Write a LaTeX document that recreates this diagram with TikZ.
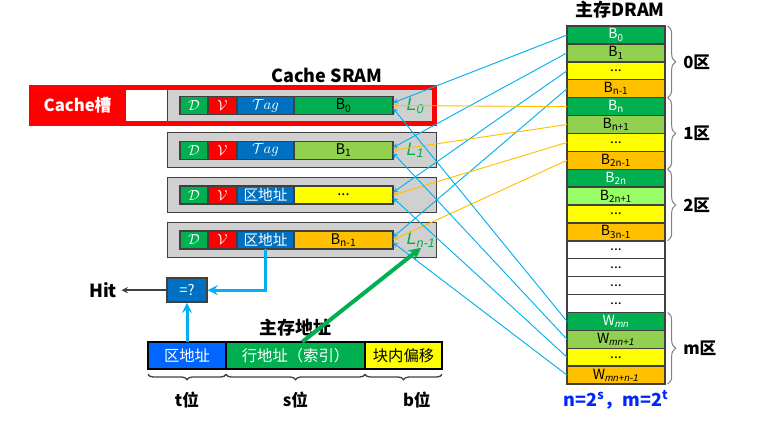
\documentclass[tikz,border=0pt]{standalone}
\usepackage{fontspec}
\setmainfont{Noto Sans CJK SC}
\newfontfamily\itfont{Liberation Sans}
\usepackage{xcolor}
\usetikzlibrary{arrows, positioning, decorations.pathreplacing}
\definecolor{cgreen}{HTML}{00B050}
\definecolor{clgreen}{HTML}{92D050}
\definecolor{cpgreen}{HTML}{99FF66}
\definecolor{cyellow}{HTML}{FFFF00}
\definecolor{corange}{HTML}{FFC000}
\definecolor{cblue}{HTML}{0070C0}
\definecolor{czone}{HTML}{0066FF}
\definecolor{ccyan}{HTML}{00B0F0}
\definecolor{cgray}{HTML}{D0D0D0}
\definecolor{cline}{HTML}{404040}
\definecolor{cnote}{HTML}{0026FF}
\tikzstyle{blk} = [rectangle, 
minimum width=73.5pt, 
minimum height=13.425pt, 
inner sep=0pt, outer sep=0pt, 
draw=cline, line width=1.1pt, 
font=\fontsize{10.5}{12}\selectfont]
\tikzstyle{gblk} = [blk, fill=cgreen, text=white]
\tikzstyle{lblk} = [blk, fill=clgreen]
\tikzstyle{pblk} = [blk, fill=cpgreen]
\tikzstyle{yblk} = [blk, fill=cyellow]
\tikzstyle{oblk} = [blk, fill=corange]
\tikzstyle{wblk} = [blk, fill=white]
\tikzstyle{cacherow} = [rectangle, 
minimum width=201.75pt, 
minimum height=26.25pt, 
outer sep=0pt, 
draw=cline, line width=0.75pt, 
fill=cgray, 
node distance=33.6pt]
\tikzstyle{field} = [rectangle, 
minimum height=13.5pt, 
inner sep=0pt, outer sep=0pt, 
draw=cline, line width=1.1pt, 
font=\fontsize{11}{12}\selectfont]
\tikzstyle{dbit} = [field, minimum width=21pt, fill=cgreen, text=white]
\tikzstyle{vbit} = [field, minimum width=21.75pt, fill=red, text=white]
\tikzstyle{tagf} = [field, minimum width=42.75pt, fill=cblue, text=white]
\tikzstyle{dataf} = [field, minimum width=74.25pt]
\tikzstyle{lname} = [inner sep=0pt, text=cgreen, font=\itfont\itshape\fontsize{13.5}{15}\selectfont]
\tikzstyle{slotbox} = [rectangle, 
minimum width=72.75pt, 
minimum height=30.75pt, 
fill=red, text=white, 
font=\bfseries\fontsize{12.5}{14}\selectfont]
\tikzstyle{addr} = [rectangle, 
minimum height=20.25pt, 
inner sep=0pt, outer sep=0pt, 
draw=black, line width=1.5pt, 
font=\fontsize{11.5}{13}\selectfont]
\tikzstyle{cmpbox} = [rectangle, 
minimum width=30pt, 
minimum height=18pt, 
inner sep=0pt, 
draw=cline, line width=1.1pt, 
fill=cblue, text=white, 
font=\fontsize{11}{12}\selectfont]
\tikzstyle{title} = [font=\bfseries\fontsize{13.5}{15}\selectfont]
\tikzstyle{zlabel} = [font=\bfseries\fontsize{12.5}{15}\selectfont]
\tikzstyle{zbrace} = [decorate, decoration={brace, amplitude=6pt}, draw=gray, line width=0.75pt]
\tikzstyle{bbrace} = [decorate, decoration={brace, mirror, amplitude=4pt}, draw=cline, line width=1pt]
\tikzstyle{map0} = [->, >=stealth, draw=ccyan, line width=0.7pt]
\tikzstyle{map1} = [->, >=stealth, draw=corange, line width=0.7pt]
\tikzstyle{arrow} = [->, >=stealth, draw=ccyan, line width=2.25pt]
\tikzstyle{garrow} = [->, >=stealth, draw=cgreen, line width=3pt]
\begin{document}
\begin{tikzpicture}[x=0.75pt, y=-0.75pt, node distance=13.425pt]
  \useasboundingbox (0,0) rectangle (773,422);

  % main memory
  \node (blk0) [gblk] at (616,35) {B\textsubscript{0}};
  \node (blk1) [lblk, below of=blk0] {B\textsubscript{1}};
  \node (blk2) [yblk, below of=blk1] {...};
  \node (blk3) [oblk, below of=blk2] {B\textsubscript{n-1}};
  \node (blk4) [gblk, below of=blk3] {B\textsubscript{n}};
  \node (blk5) [lblk, below of=blk4] {B\textsubscript{n+1}};
  \node (blk6) [yblk, below of=blk5] {...};
  \node (blk7) [oblk, below of=blk6] {B\textsubscript{2n-1}};
  \node (blk8) [gblk, below of=blk7] {B\textsubscript{2n}};
  \node (blk9) [pblk, below of=blk8] {B\textsubscript{2n+1}};
  \node (blk10) [yblk, below of=blk9] {...};
  \node (blk11) [oblk, below of=blk10] {B\textsubscript{3n-1}};
  \node (blk12) [wblk, below of=blk11] {...};
  \node (blk13) [wblk, below of=blk12] {...};
  \node (blk14) [wblk, below of=blk13] {...};
  \node (blk15) [wblk, below of=blk14] {...};
  \node (blk16) [gblk, below of=blk15] {W\textsubscript{\itfont\itshape mn}};
  \node (blk17) [lblk, below of=blk16] {W\textsubscript{\itfont\itshape mn+1}};
  \node (blk18) [yblk, below of=blk17] {...};
  \node (blk19) [oblk, below of=blk18] {W\textsubscript{\itfont\itshape mn+n-1}};
  \node (dram) [title, node distance=18.75pt, above of=blk0, xshift=3pt] {主存DRAM};
  \node (note) [title, text=cnote, node distance=18.75pt, below of=blk19] {n=2\textsuperscript{s}，m=2\textsuperscript{t}};

  \draw [zbrace] ([xshift=2pt]blk0.north east) -- node[zlabel, right=8pt] {0区} ([xshift=2pt]blk3.south east);
  \draw [zbrace] ([xshift=2pt]blk4.north east) -- node[zlabel, right=8pt] {1区} ([xshift=2pt]blk7.south east);
  \draw [zbrace] ([xshift=2pt]blk8.north east) -- node[zlabel, right=8pt] {2区} ([xshift=2pt]blk11.south east);
  \draw [zbrace] ([xshift=2pt]blk16.north east) -- node[zlabel, right=8pt] {m区} ([xshift=2pt]blk19.south east);

  % cache lines
  \node (row0) [cacherow] at (301.5,105.5) {};
  \node (row1) [cacherow, below of=row0] {};
  \node (row2) [cacherow, below of=row1] {};
  \node (row3) [cacherow, below of=row2] {};
  \node (sram) [title, node distance=22.9pt, above of=row0, xshift=19pt] {Cache SRAM};

  \node (d0) [dbit, right=9.75pt of row0.west] {$\mathcal{D}$};
  \node (v0) [vbit, right=0pt of d0] {$\mathcal{V}$};
  \node (t0) [tagf, right=0pt of v0] {$\mathcal{T}ag$};
  \node (c0) [dataf, fill=cgreen, right=0pt of t0] {B\textsubscript{0}};
  \node (l0) [lname, right=10pt of c0] {L\textsubscript{0}};

  \node (d1) [dbit, right=9.75pt of row1.west] {$\mathcal{D}$};
  \node (v1) [vbit, right=0pt of d1] {$\mathcal{V}$};
  \node (t1) [tagf, right=0pt of v1] {$\mathcal{T}ag$};
  \node (c1) [dataf, fill=clgreen, right=0pt of t1] {B\textsubscript{1}};
  \node (l1) [lname, right=10pt of c1] {L\textsubscript{1}};

  \node (d2) [dbit, right=9.75pt of row2.west] {$\mathcal{D}$};
  \node (v2) [vbit, right=0pt of d2] {$\mathcal{V}$};
  \node (t2) [tagf, right=0pt of v2] {区地址};
  \node (c2) [dataf, fill=cyellow, right=0pt of t2] {...};

  \node (d3) [dbit, right=9.75pt of row3.west] {$\mathcal{D}$};
  \node (v3) [vbit, right=0pt of d3] {$\mathcal{V}$};
  \node (t3) [tagf, right=0pt of v3] {区地址};
  \node (c3) [dataf, fill=corange, right=0pt of t3] {B\textsubscript{n-1}};
  \node (l3) [lname, right=10pt of c3] {L\textsubscript{n-1}};

  \node (slot) [slotbox, node distance=168pt, left of=row0] {Cache槽};
  \draw [red, line width=3.75pt] (31.5,87.5) rectangle (434.5,123.5);

  % address
  \node (zone) [addr, minimum width=58.5pt, fill=czone, text=white] at (187,355.5) {区地址};
  \node (idx) [addr, minimum width=104.25pt, fill=cgreen, text=white, right=0pt of zone] {行地址（索引）};
  \node (off) [addr, minimum width=57.75pt, fill=cyellow, right=0pt of idx] {块内偏移};
  \node (maddr) [title, above=1pt of idx] {主存地址};
  \draw [bbrace] ([yshift=-4pt]zone.south west) -- node[zlabel, below=9pt] {t位} ([yshift=-4pt]zone.south east);
  \draw [bbrace] ([yshift=-4pt]idx.south west) -- node[zlabel, below=9pt] {s位} ([yshift=-4pt]idx.south east);
  \draw [bbrace] ([yshift=-4pt]off.south west) -- node[zlabel, below=9pt, xshift=10pt] {b位} ([yshift=-4pt]off.south east);

  \node (cmp) [cmpbox, node distance=49pt, above of=zone] {=?};
  \node (hit) [title, node distance=63pt, left of=cmp] {Hit};
  \draw [->, >=stealth, draw=cline, line width=1.1pt] (cmp) -- (hit);
  \draw [arrow] (zone) -- (cmp);
  \draw [arrow] (t3.south) |- (cmp.east);

  % mapping
  \draw [map0] (blk0.west) -- ([yshift=2pt]c0.east);
  \draw [map0] (blk1.west) -- ([yshift=2pt]c1.east);
  \draw [map0] (blk2.west) -- ([yshift=2pt]c2.east);
  \draw [map0] (blk3.west) -- ([yshift=2pt]c3.east);
  \draw [map1] (blk4.west) -- (c0.east);
  \draw [map1] (blk5.west) -- (c1.east);
  \draw [map1] (blk6.west) -- (c2.east);
  \draw [map1] (blk7.west) -- (c3.east);
  \draw [map0] (blk16.west) -- ([yshift=-2pt]c0.east);
  \draw [map0] (blk17.west) -- ([yshift=-2pt]c1.east);
  \draw [map0] (blk18.west) -- ([yshift=-2pt]c2.east);
  \draw [map0] (blk19.west) -- ([yshift=-2pt]c3.east);
  \draw [garrow] ([xshift=5pt]idx.north) -- (l3.south);

\end{tikzpicture}
\end{document}
